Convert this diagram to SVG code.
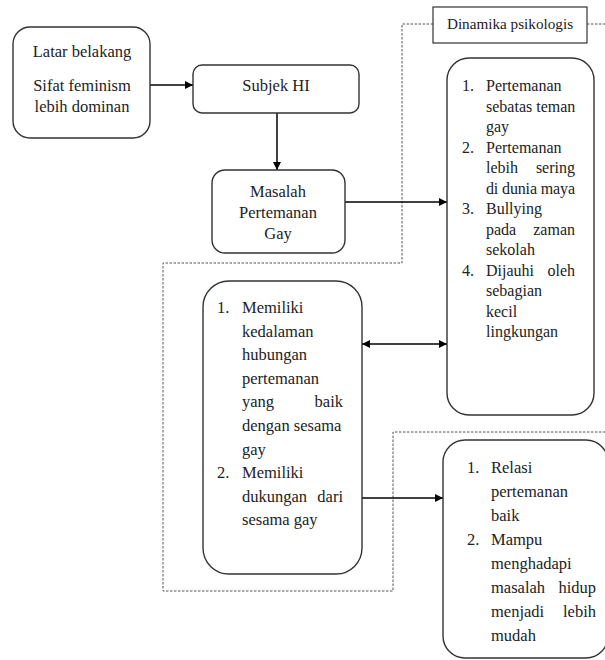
<svg xmlns="http://www.w3.org/2000/svg" width="605" height="660" viewBox="0 0 605 660">
<defs>
<style>
.box{fill:#fff;stroke:#333;stroke-width:1.4}
.t{font-family:'Liberation Serif','Times New Roman','DejaVu Serif',serif;font-size:16.5px;fill:#222}
.r{font-size:16px}
.c{text-anchor:middle}
.e{text-anchor:end}
.dash{fill:none;stroke:#555;stroke-width:1;stroke-dasharray:2.5 1.5}
.arr{fill:none;stroke:#000;stroke-width:1.5}
</style>
<marker id="ah" viewBox="0 0 10 10" refX="10" refY="5" markerWidth="9" markerHeight="8" markerUnits="userSpaceOnUse" orient="auto-start-reverse">
<path d="M0,0 L10,5 L0,10 z" fill="#000"/>
</marker>
</defs>
<rect width="605" height="660" fill="#fff"/>

<g id="frame">
<path class="dash" d="M433,24 H402 V263 H163 V591 H393 V432 H605"/>
<path class="dash" d="M587,24 H605"/>
</g>

<g id="connectors">
<line class="arr" x1="150" y1="85" x2="193" y2="85" marker-end="url(#ah)"/>
<line class="arr" x1="277" y1="113" x2="277" y2="170" marker-end="url(#ah)"/>
<line class="arr" x1="345" y1="202" x2="447" y2="202" marker-end="url(#ah)"/>
<line class="arr" x1="362" y1="344" x2="447" y2="344" marker-start="url(#ah)" marker-end="url(#ah)"/>
<line class="arr" x1="362" y1="498" x2="443" y2="498" marker-end="url(#ah)"/>
</g>

<g id="label">
<rect x="433" y="7" width="154" height="36" fill="#fff" stroke="#333" stroke-width="1.2"/>
<text class="t c" x="510" y="29" font-family="Liberation Serif, serif" style="font-size:15.2px">Dinamika psikologis</text>
</g>

<g id="latar">
<rect class="box" x="13" y="27" width="137" height="111" rx="17"/>
<text class="t c" x="82" y="57">Latar belakang</text>
<text class="t c" x="82" y="91">Sifat feminism</text>
<text class="t c" x="82" y="112">lebih dominan</text>
</g>

<g id="subjek">
<rect class="box" x="193" y="65" width="166" height="48" rx="9"/>
<text class="t c" x="276" y="91">Subjek HI</text>
</g>

<g id="masalah">
<rect class="box" x="212" y="170" width="133" height="83" rx="13"/>
<text class="t c" x="278" y="197">Masalah</text>
<text class="t c" x="278" y="218">Pertemanan</text>
<text class="t c" x="278" y="239">Gay</text>
</g>

<g id="dinamika">
<rect class="box" x="447" y="58" width="147" height="357" rx="22"/>
<text class="t r" x="462" y="91">1.</text>
<text class="t r" x="486" y="91">Pertemanan</text>
<text class="t r" x="486" y="111.5">sebatas teman</text>
<text class="t r" x="486" y="132">gay</text>
<text class="t r" x="462" y="152.5">2.</text>
<text class="t r" x="486" y="152.5">Pertemanan</text>
<text class="t r" x="486" y="173">lebih</text>
<text class="t r e" x="575" y="173">sering</text>
<text class="t r" x="486" y="193.5" textLength="89" lengthAdjust="spacing">di dunia maya</text>
<text class="t r" x="462" y="214">3.</text>
<text class="t r" x="486" y="214">Bullying</text>
<text class="t r" x="486" y="234.5">pada</text>
<text class="t r e" x="575" y="234.5">zaman</text>
<text class="t r" x="486" y="255">sekolah</text>
<text class="t r" x="462" y="275.5">4.</text>
<text class="t r" x="486" y="275.5">Dijauhi</text>
<text class="t r e" x="575" y="275.5">oleh</text>
<text class="t r" x="486" y="296">sebagian</text>
<text class="t r" x="486" y="316.5">kecil</text>
<text class="t r" x="486" y="337">lingkungan</text>
</g>

<g id="kedalaman">
<rect class="box" x="203" y="281" width="159" height="293" rx="26"/>
<text class="t" x="217" y="313">1.</text>
<text class="t" x="242" y="313">Memiliki</text>
<text class="t" x="242" y="336.6">kedalaman</text>
<text class="t" x="242" y="360.2">hubungan</text>
<text class="t" x="242" y="383.8">pertemanan</text>
<text class="t" x="242" y="407.4">yang</text>
<text class="t e" x="343" y="407.4">baik</text>
<text class="t" x="242" y="431">dengan sesama</text>
<text class="t" x="242" y="454.6">gay</text>
<text class="t" x="217" y="478.2">2.</text>
<text class="t" x="242" y="478.2">Memiliki</text>
<text class="t" x="242" y="501.8">dukungan</text>
<text class="t e" x="343" y="501.8">dari</text>
<text class="t" x="242" y="525.4">sesama gay</text>
</g>

<g id="relasi">
<rect class="box" x="443" y="440" width="165" height="218" rx="22"/>
<text class="t" x="467" y="473">1.</text>
<text class="t" x="491" y="473">Relasi</text>
<text class="t" x="491" y="497">pertemanan</text>
<text class="t" x="491" y="521">baik</text>
<text class="t" x="467" y="545">2.</text>
<text class="t" x="491" y="545">Mampu</text>
<text class="t" x="491" y="569">menghadapi</text>
<text class="t" x="491" y="593">masalah</text>
<text class="t e" x="596" y="593">hidup</text>
<text class="t" x="491" y="617">menjadi</text>
<text class="t e" x="596" y="617">lebih</text>
<text class="t" x="491" y="641">mudah</text>
</g>
</svg>
